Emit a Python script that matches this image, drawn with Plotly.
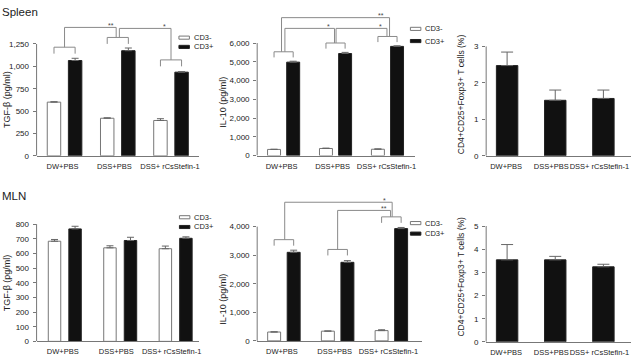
import numpy as np
import plotly.graph_objects as go

W, H = 635, 361

# ---------------- data ----------------
groups = ["DW+PBS", "DSS+PBS", "DSS+ rCsStefin-1"]
series_names = ["CD3-", "CD3+"]

spleen_tgf_neg = [600, 420, 395]
spleen_tgf_neg_err = [5, 5, 20]
spleen_tgf_pos = [1065, 1175, 935]
spleen_tgf_pos_err = [25, 30, 6]

spleen_il10_neg = [330, 380, 340]
spleen_il10_neg_err = [8, 20, 20]
spleen_il10_pos = [4980, 5440, 5820]
spleen_il10_pos_err = [50, 60, 30]

spleen_treg = [2.47, 1.52, 1.57]
spleen_treg_err = [0.37, 0.28, 0.23]

mln_tgf_neg = [683, 638, 632]
mln_tgf_neg_err = [12, 14, 18]
mln_tgf_pos = [767, 688, 703]
mln_tgf_pos_err = [18, 22, 10]

mln_il10_neg = [310, 340, 360]
mln_il10_neg_err = [8, 8, 30]
mln_il10_pos = [3100, 2750, 3930]
mln_il10_pos_err = [75, 60, 40]

mln_treg = [3.54, 3.54, 3.24]
mln_treg_err = [0.66, 0.15, 0.11]

tgf_spleen_ticks = [0, 250, 500, 750, 1000, 1250]
il10_spleen_ticks = [0, 1000, 2000, 3000, 4000, 5000, 6000]
treg_spleen_ticks = [0, 1, 2, 3]
tgf_mln_ticks = [0, 100, 200, 300, 400, 500, 600, 700, 800]
il10_mln_ticks = [0, 1000, 2000, 3000, 4000]
treg_mln_ticks = [0, 1, 2, 3, 4, 5]

# significance brackets: bracket level per group, connectors (a, b, level, label)
spleen_tgf_brackets = [1214, 1323, 1072]
spleen_tgf_links = [(0, 1, 1435, "**"), (1, 2, 1424, "*")]
spleen_il10_brackets = [5532, 6000, 6348]
spleen_il10_links = [(0, 2, 7351, "**"), (0, 1, 6779, "*"), (1, 2, 6779, "*")]
mln_il10_brackets = [3543, 3201, 4341]
mln_il10_links = [(0, 2, 4853, "*"), (1, 2, 4567, "**")]

# ---------------- layout geometry (pixels) ----------------
FONT = "Liberation Sans, Arial, sans-serif"
TXT = "#222"
AX = "#777"
BR = "#8a8a8a"

panels = [
    dict(left=36.7, c0=64.75, sp=53.4, right=200, zero=155.7, tpx=41, top=10,
         ticks=tgf_spleen_ticks, title="TGF-β (pg/ml)", tx=6.5, ty=98, tsize=9,
         lab_dx=[-2, -3.5, -1],
         series=[(spleen_tgf_neg, spleen_tgf_neg_err), (spleen_tgf_pos, spleen_tgf_pos_err)],
         off=10.6, bw=13.5, brackets=spleen_tgf_brackets, links=spleen_tgf_links,
         link_dx=[(0, -0.03), (0.03, 0)], drop=72, legend=(179.5, 34.5, 44)),
    dict(left=258, c0=284.5, sp=52.1, right=416.7, zero=155.5, tpx=40, top=5,
         ticks=il10_spleen_ticks, title="IL-10 (pg/ml)", tx=224, ty=101, tsize=9,
         lab_dx=[-2, -3, -1],
         series=[(spleen_il10_neg, spleen_il10_neg_err), (spleen_il10_pos, spleen_il10_pos_err)],
         off=9.6, bw=13, brackets=spleen_il10_brackets, links=spleen_il10_links,
         link_dx=[(-0.04, 0.04), (0.025, -0.02), (0.01, -0.01)],
         drop=300, legend=(411.7, 25.5, 38)),
    dict(left=487.7, c0=508.7, sp=48.3, right=633, zero=155.7, tpx=43.3, top=43.3,
         ticks=treg_spleen_ticks, title="CD4+CD25+Foxp3+ T cells (%)", tx=462, ty=93, tsize=8.5,
         lab_dx=[-1, -4, -4],
         series=[(spleen_treg, spleen_treg_err)], off=0, bw=21.5),
    dict(left=36.7, c0=65, sp=55.6, right=200, zero=346, tpx=225.7, top=225.7,
         ticks=tgf_mln_ticks, title="TGF-β (pg/ml)", tx=6.5, ty=286, tsize=9,
         lab_dx=[-2, -4, -4],
         series=[(mln_tgf_neg, mln_tgf_neg_err), (mln_tgf_pos, mln_tgf_pos_err)],
         off=10.3, bw=12.5, legend=(180, 218.7, 228.7)),
    dict(left=258, c0=284.8, sp=53.9, right=423, zero=345.5, tpx=228.3, top=195,
         ticks=il10_mln_ticks, title="IL-10 (pg/ml)", tx=224, ty=303, tsize=9,
         lab_dx=[-2, -3, -3],
         series=[(mln_il10_neg, mln_il10_neg_err), (mln_il10_pos, mln_il10_pos_err)],
         off=9.8, bw=13, brackets=mln_il10_brackets, links=mln_il10_links,
         link_dx=[(0.015, 0.015), (0, -0.015)],
         drop=210, legend=(411.7, 224.7, 235.5)),
    dict(left=487.7, c0=508.7, sp=48.3, right=633, zero=346.5, tpx=227.7, top=227.7,
         ticks=treg_mln_ticks, title="CD4+CD25+Foxp3+ T cells (%)", tx=462, ty=280, tsize=8.5,
         lab_dx=[-1, -4, -4],
         series=[(mln_treg, mln_treg_err)], off=0, bw=21.5),
]

fig = go.Figure()
layout = dict(width=W, height=H, autosize=False, margin=dict(l=0, r=0, t=0, b=0),
              paper_bgcolor="white", plot_bgcolor="white", showlegend=False,
              barmode="overlay", font=dict(family=FONT, color=TXT))
shapes, annotations = [], []
idx = np.arange(len(groups))

for n, p in enumerate(panels, start=1):
    xa = "x" if n == 1 else f"x{n}"
    ya = "y" if n == 1 else f"y{n}"
    xkey = "xaxis" if n == 1 else f"xaxis{n}"
    ykey = "yaxis" if n == 1 else f"yaxis{n}"
    tick_top = p["ticks"][-1]
    ppv = (p["zero"] - p["tpx"]) / tick_top
    ymax = (p["zero"] - p["top"]) / ppv
    xr = [(p["left"] - p["c0"]) / p["sp"], (p["right"] - p["c0"]) / p["sp"]]
    label_pos = [i + d / p["sp"] for i, d in zip(idx, p["lab_dx"])]
    layout[xkey] = dict(domain=[p["left"] / W, p["right"] / W], anchor=ya, range=xr,
                        showline=True, linecolor=AX, linewidth=1, showgrid=False,
                        zeroline=False, tickvals=label_pos, ticktext=groups, ticks="",
                        tickangle=0, ticklabelstandoff=3, fixedrange=True,
                        tickfont=dict(size=7.5, family=FONT, color=TXT))
    layout[ykey] = dict(domain=[1 - p["zero"] / H, 1 - p["top"] / H], anchor=xa,
                        range=[0, ymax], showline=False, showgrid=False, zeroline=False,
                        tickvals=p["ticks"], tickformat=",d", ticks="outside", ticklen=3,
                        tickcolor=AX, ticklabelstandoff=2, fixedrange=True,
                        tickfont=dict(size=8, family=FONT, color=TXT))
    shapes.append(dict(type="line", xref=f"{xa} domain", yref=ya, x0=0, x1=0, y0=0,
                       y1=tick_top, line=dict(color=AX, width=1)))

    off = p["off"] / p["sp"]
    bw = p["bw"] / p["sp"]
    nser = len(p["series"])
    offsets = [-off, off] if nser == 2 else [0]
    for s, ((vals, errs), dx) in enumerate(zip(p["series"], offsets)):
        open_bar = (nser == 2 and s == 0)
        fig.add_trace(go.Bar(
            x=idx + dx, y=vals, width=bw, xaxis=xa, yaxis=ya, name=series_names[s],
            marker=dict(color="white" if open_bar else "#111",
                        line=dict(color="#777" if open_bar else "#222", width=1)),
            error_y=dict(type="data", array=errs, arrayminus=[0] * len(errs), symmetric=False,
                         color="#666", thickness=1, width=3.5 if nser == 2 else 6),
            hoverinfo="skip"))

    if "brackets" in p:
        bx, by = [], []
        drop = p["drop"]
        for g, lvl in enumerate(p["brackets"]):
            bx += [g - off, g - off, g + off, g + off, None]
            by += [lvl - drop, lvl, lvl, lvl - drop, None]
        for (a, b, lvl, lab), (dxa, dxb) in zip(p["links"], p["link_dx"]):
            bx += [a + dxa, a + dxa, b + dxb, b + dxb, None]
            by += [p["brackets"][a], lvl, lvl, p["brackets"][b], None]
            annotations.append(dict(xref=xa, yref=ya, x=b - 0.13, y=lvl + 2.0 / ppv,
                                    text=lab, showarrow=False, yanchor="middle",
                                    font=dict(size=7, family=FONT, color="#444")))
        fig.add_trace(go.Scatter(x=bx, y=by, mode="lines", xaxis=xa, yaxis=ya,
                                 line=dict(color=BR, width=1), hoverinfo="skip"))

    annotations.append(dict(xref="paper", yref="paper", x=p["tx"] / W, y=1 - p["ty"] / H,
                            text=p["title"], textangle=-90, showarrow=False,
                            xanchor="center", yanchor="middle",
                            font=dict(size=p["tsize"], family=FONT, color=TXT)))

    if "legend" in p:
        lx, ly1, ly2 = p["legend"]
        for ly, name, fill, lc in [(ly1, series_names[0], "white", "#777"),
                                   (ly2, series_names[1], "#111", "#222")]:
            shapes.append(dict(type="rect", xref="paper", yref="paper",
                               x0=lx / W, x1=(lx + 10.5) / W,
                               y0=1 - (ly + 1.6) / H, y1=1 - (ly - 1.6) / H,
                               fillcolor=fill, line=dict(color=lc, width=1)))
            annotations.append(dict(xref="paper", yref="paper", x=(lx + 13) / W,
                                    y=1 - ly / H, text=name, showarrow=False,
                                    xanchor="left", yanchor="middle",
                                    font=dict(size=7.5, family=FONT, color=TXT)))

annotations.append(dict(xref="paper", yref="paper", x=0, y=1 - 8.5 / H, text="Spleen",
                        showarrow=False, xanchor="left", yanchor="middle",
                        font=dict(size=11.5, family=FONT, color=TXT)))
annotations.append(dict(xref="paper", yref="paper", x=0, y=1 - 197 / H, text="MLN",
                        showarrow=False, xanchor="left", yanchor="middle",
                        font=dict(size=11.5, family=FONT, color=TXT)))

layout["shapes"] = shapes
layout["annotations"] = annotations
layout["hovermode"] = False
fig.update_layout(**layout)
fig.write_html("out.html", config={"displayModeBar": False, "staticPlot": True},
               post_script="document.body.style.margin='0px';document.body.style.overflow='hidden';")
